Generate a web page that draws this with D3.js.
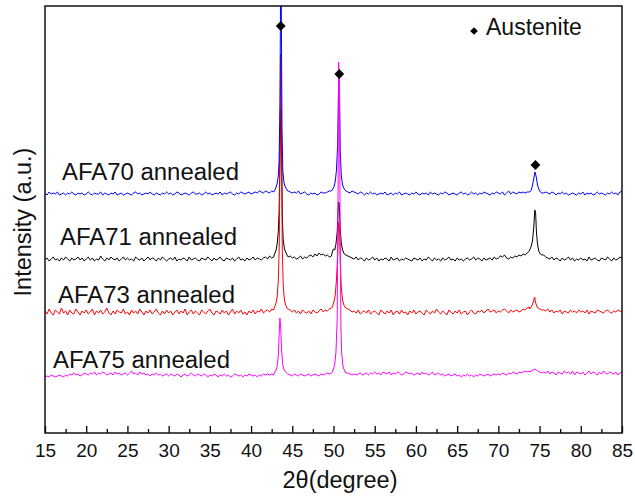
<!DOCTYPE html>
<html>
<head>
<meta charset="utf-8">
<script src="https://cdn.jsdelivr.net/npm/d3@7"></script>
<style>
  body { margin: 0; background: #fff; }
  text { font-family: Arial, "Liberation Sans", sans-serif; fill: #111; }
</style>
</head>
<body>
<svg id="chart"></svg>
<script>
const width = 635;
const height = 497;
const plotLeft = 45, plotRight = 622, plotTop = 6, plotBottom = 433;

// 2theta grid of the scans
const thetaStart = 15;
const thetaStep = 0.25;

const names = ['AFA70 annealed', 'AFA71 annealed', 'AFA73 annealed', 'AFA75 annealed'];
const colors = ['#0000ff', '#000000', '#ff0000', '#ff00ff'];
const offsets = [237, 171, 117, 55];

// background counts (relative), one value per grid step
const bgAFA70 = [
  3,1,4,2,3,2,4,1,2,3,1,3,2,4,2,1,3,2,3,1,
  2,4,2,1,3,2,2,4,1,3,2,1,3,2,4,1,2,3,1,2,
  3,2,1,3,4,2,3,1,2,3,2,4,2,1,3,2,1,3,2,4,
  2,3,1,2,4,3,1,2,3,2,1,3,4,2,2,3,1,2,4,2,
  3,1,2,3,2,4,1,3,2,3,4,2,1,3,2,4,3,2,3,4,
  2,3,4,3,5,4,3,5,4,3,5,4,0,0,0,0,0,0,5,4,
  3,4,3,5,2,3,4,2,1,3,2,3,1,2,4,3,3,4,5,5,
  0,0,0,0,0,0,0,4,3,5,4,3,2,4,3,1,3,2,4,2,
  3,1,2,3,2,4,1,2,3,1,3,2,4,1,2,3,2,1,3,2,
  4,2,1,3,2,3,1,4,2,3,2,1,3,2,4,3,1,2,3,2,
  1,3,4,2,3,1,2,4,2,3,1,3,2,4,3,2,1,3,2,4,
  3,2,4,1,3,5,2,4,3,2,4,3,4,3,4,4,0,0,0,0,
  0,0,3,4,3,2,4,3,1,3,2,4,2,3,1,2,3,2,1,3,
  2,4,1,3,2,3,1,2,4,2,3,2,1,3,2,4,2,3,1,4,5
];
const bgAFA71 = [
  2,4,1,3,5,2,3,1,4,2,5,3,1,4,2,3,5,2,4,1,
  3,5,2,4,1,3,2,6,3,1,4,2,5,3,2,4,1,3,5,2,
  4,2,3,1,5,3,2,4,1,3,5,2,4,3,1,4,2,5,3,1,
  3,4,2,5,1,3,2,4,3,1,5,2,3,4,2,1,4,3,2,5,
  3,1,4,2,3,5,2,1,4,3,2,4,1,3,5,2,3,1,4,2,
  3,5,2,4,3,2,4,5,3,6,4,5,0,0,0,0,0,0,5,6,
  4,5,3,4,6,3,5,4,6,7,5,8,6,9,7,8,6,7,5,6,
  0,0,0,0,0,0,0,6,5,4,3,5,2,4,3,1,4,2,3,5,
  2,4,1,3,2,4,3,1,5,2,3,4,1,3,2,4,3,2,1,4,
  3,2,4,1,3,2,5,3,1,4,2,3,1,4,2,3,5,2,3,1,
  4,2,3,1,3,4,2,3,5,2,4,3,1,4,2,3,4,2,5,3,
  4,6,5,7,4,3,5,4,6,5,7,6,8,7,9,11,0,0,0,0,
  0,0,7,5,4,3,5,2,4,3,1,4,2,3,5,2,4,1,3,2,
  4,2,3,1,5,2,3,4,2,1,4,3,2,5,3,1,4,2,3,5,4
];
const bgAFA73 = [
  5,2,7,3,1,6,4,2,8,3,5,1,6,3,2,7,4,1,5,3,
  6,2,4,7,1,5,3,6,2,4,8,3,1,5,2,6,4,3,7,2,
  4,1,6,3,5,2,7,4,1,5,3,6,2,4,7,3,1,5,2,6,
  3,5,1,4,6,2,5,3,7,1,4,6,2,5,3,1,6,4,2,5,
  7,3,1,5,4,2,6,3,5,1,4,7,2,5,3,6,2,4,1,5,
  3,6,2,5,4,7,3,5,6,4,7,6,0,0,0,0,0,0,7,6,
  4,6,3,5,2,6,4,3,5,2,6,4,3,5,7,4,6,5,7,8,
  0,0,0,0,0,0,0,7,6,4,5,3,6,2,4,5,3,6,2,4,
  5,3,1,6,4,2,5,3,6,1,4,5,2,6,3,4,1,5,3,6,
  2,4,5,3,1,6,4,2,5,3,7,4,2,5,3,1,6,4,2,5,
  3,6,2,4,5,1,4,6,3,2,5,4,6,3,5,7,4,5,6,3,
  5,4,6,7,5,3,6,4,5,6,4,5,7,6,8,9,0,0,0,0,
  0,0,6,5,7,4,6,3,5,4,6,2,5,4,3,6,4,5,3,6,
  4,5,3,6,2,5,4,3,6,5,4,3,5,6,4,3,5,4,6,5,4
];
const bgAFA75 = [
  1,2,1,3,2,1,2,3,2,1,3,2,4,3,5,3,4,2,3,5,
  4,3,5,4,6,3,5,4,6,5,3,4,5,3,6,4,5,3,4,5,
  3,5,7,4,5,3,6,4,5,3,4,2,4,3,5,3,4,2,3,4,
  2,4,3,2,4,3,1,3,4,2,3,5,3,2,4,3,2,4,3,1,
  3,2,4,3,1,3,2,4,2,3,1,2,4,3,2,3,1,3,2,4,
  3,2,3,1,3,2,4,3,4,3,4,3,0,0,0,0,0,0,4,3,
  2,4,3,2,4,3,2,3,4,2,3,4,3,2,4,3,4,5,4,5,
  0,0,0,0,0,0,0,5,4,3,4,3,4,5,3,4,5,3,5,4,
  6,4,5,3,6,5,4,6,3,5,4,6,5,3,4,6,5,4,5,3,
  4,5,3,6,4,5,3,4,6,3,4,5,3,4,2,3,4,2,3,4,
  2,3,1,3,2,4,2,3,1,3,2,4,3,2,3,4,2,3,4,3,
  4,3,5,4,3,5,4,6,5,4,6,5,6,7,6,7,0,0,0,0,
  0,0,6,5,7,4,6,5,3,6,5,4,7,5,6,4,7,3,6,5,
  4,6,3,5,7,4,6,5,3,6,4,7,5,4,6,5,4,6,3,5,6
];

// peak profiles [2theta, counts] for (111), (200), (220)
const pkAFA70 = [
  [[42.8,5],[43.0,8],[43.15,12],[43.3,20],[43.4,35],[43.5,90],[43.58,200],[43.66,200],[43.75,70],[43.85,25],[44.0,13],[44.15,9],[44.3,7],[44.45,5]],
  [[49.85,6],[50.05,9],[50.2,14],[50.35,25],[50.5,50],[50.62,113],[50.72,110],[50.82,45],[50.95,20],[51.1,11],[51.3,7],[51.5,5]],
  [[73.8,4],[74.0,6],[74.15,11],[74.3,18],[74.45,24],[74.6,19],[74.75,11],[74.9,7],[75.1,4],[75.3,3]]
];
const pkAFA71 = [
  [[42.8,7],[43.0,11],[43.15,17],[43.3,30],[43.4,50],[43.5,100],[43.6,153],[43.7,110],[43.8,42],[43.9,22],[44.05,13],[44.2,10],[44.35,7],[44.45,6]],
  [[49.85,10],[50.0,13],[50.15,12],[50.3,18],[50.45,30],[50.6,60],[50.7,58],[50.8,35],[50.95,18],[51.1,12],[51.3,8],[51.5,7]],
  [[73.8,12],[74.0,16],[74.15,22],[74.3,35],[74.42,52],[74.52,49],[74.62,30],[74.75,18],[74.9,11],[75.1,8],[75.3,7]]
];
const pkAFA73 = [
  [[42.8,8],[43.0,12],[43.15,18],[43.3,35],[43.42,70],[43.52,180],[43.6,262],[43.68,200],[43.78,70],[43.9,30],[44.05,16],[44.2,11],[44.35,8],[44.45,7]],
  [[49.85,9],[50.05,14],[50.2,20],[50.35,35],[50.5,60],[50.62,94],[50.72,90],[50.82,55],[50.95,28],[51.1,16],[51.3,10],[51.5,8]],
  [[73.8,7],[74.0,9],[74.15,12],[74.3,16],[74.4,19],[74.5,14],[74.65,10],[74.8,8],[75.0,7],[75.3,6]]
];
const pkAFA75 = [
  [[42.8,5],[43.0,7],[43.15,11],[43.3,22],[43.4,42],[43.5,60],[43.6,50],[43.7,28],[43.85,13],[44.0,8],[44.2,6],[44.45,4]],
  [[49.85,6],[50.0,9],[50.15,14],[50.3,26],[50.45,60],[50.55,180],[50.62,316],[50.72,300],[50.8,150],[50.9,50],[51.0,24],[51.15,12],[51.3,8],[51.5,5]],
  [[73.8,6],[74.0,7],[74.2,8],[74.4,9],[74.6,8],[74.8,7],[75.0,6],[75.3,5]]
];

// austenite markers
const markTheta = [43.6, 50.7, 74.5];
const markCounts = [407, 359, 268];

const xTicks = [15, 20, 25, 30, 35, 40, 45, 50, 55, 60, 65, 70, 75, 80, 85];
const xMinor = [17.5, 22.5, 27.5, 32.5, 37.5, 42.5, 47.5, 52.5, 57.5, 62.5, 67.5, 72.5, 77.5, 82.5];

const labelPos = [[62, 180], [60, 245], [58, 303], [53, 368]];

const svg = d3.select('#chart')
  .attr('width', width)
  .attr('height', height);

const x = d3.scaleLinear().domain([15, 85]).range([plotLeft, plotRight]);
const y = d3.scaleLinear().domain([0, 427]).range([plotBottom, plotTop]);

svg.append('defs').append('clipPath').attr('id', 'plot')
  .append('rect')
  .attr('x', plotLeft).attr('y', plotTop)
  .attr('width', plotRight - plotLeft).attr('height', plotBottom - plotTop);

function buildSeries(bg, peaks, off) {
  let pts = bg.map((v, i) => [thetaStart + i * thetaStep, v]);
  pts = pts.filter(p => !peaks.some(pk => p[0] >= pk[0][0] && p[0] <= pk[pk.length - 1][0]));
  peaks.forEach(pk => pk.forEach(p => pts.push(p)));
  pts.sort((a, b) => a[0] - b[0]);
  return pts.map(p => ({theta: p[0], counts: p[1] + off}));
}

const series = [
  buildSeries(bgAFA70, pkAFA70, offsets[0]),
  buildSeries(bgAFA71, pkAFA71, offsets[1]),
  buildSeries(bgAFA73, pkAFA73, offsets[2]),
  buildSeries(bgAFA75, pkAFA75, offsets[3])
];

const line = d3.line()
  .x(d => x(d.theta))
  .y(d => y(d.counts));

// draw order: black, red, blue, magenta
const order = [1, 2, 0, 3];
const traces = svg.append('g').attr('clip-path', 'url(#plot)');
order.forEach(k => {
  traces.append('path')
    .datum(series[k])
    .attr('fill', 'none')
    .attr('stroke', colors[k])
    .attr('stroke-width', 1)
    .attr('stroke-linejoin', 'round')
    .attr('d', line);
});

// diamonds
const diamond = d3.symbol().type(d3.symbolSquare).size(48);
svg.selectAll('.mark')
  .data(markTheta)
  .enter().append('path')
  .attr('class', 'mark')
  .attr('d', diamond)
  .attr('fill', '#000')
  .attr('transform', (d, i) => `translate(${x(d)},${y(markCounts[i])}) rotate(45)`);

// sample labels
svg.selectAll('.name')
  .data(names)
  .enter().append('text')
  .attr('class', 'name')
  .attr('x', (d, i) => labelPos[i][0])
  .attr('y', (d, i) => labelPos[i][1])
  .attr('font-size', 23)
  .attr('textLength', 177)
  .attr('lengthAdjust', 'spacingAndGlyphs')
  .text(d => d);

// legend
svg.append('path')
  .attr('d', d3.symbol().type(d3.symbolSquare).size(30))
  .attr('fill', '#000')
  .attr('transform', 'translate(474,31) rotate(45)');
svg.append('text')
  .attr('x', 486).attr('y', 35)
  .attr('font-size', 23)
  .text('Austenite');

// axes
const xAxis = svg.append('g')
  .attr('transform', `translate(0,${plotBottom})`)
  .call(d3.axisBottom(x).tickValues(xTicks).tickSizeInner(-7).tickSizeOuter(0).tickPadding(11));
xAxis.select('.domain').remove();
xAxis.selectAll('line').attr('stroke-width', 1.3);
xAxis.selectAll('text')
  .attr('font-size', 19)
  .style('font-family', 'Arial, "Liberation Sans", sans-serif')
  .attr('fill', '#111');

const minor = svg.append('g')
  .attr('transform', `translate(0,${plotBottom})`)
  .call(d3.axisBottom(x).tickValues(xMinor).tickSizeInner(-4).tickSizeOuter(0).tickFormat(''));
minor.select('.domain').remove();
minor.selectAll('line').attr('stroke-width', 1.3);

// frame
svg.append('rect')
  .attr('x', plotLeft).attr('y', plotTop)
  .attr('width', plotRight - plotLeft).attr('height', plotBottom - plotTop)
  .attr('fill', 'none')
  .attr('stroke', '#111')
  .attr('stroke-width', 1.5);

svg.append('text')
  .attr('x', 340)
  .attr('y', 488)
  .attr('text-anchor', 'middle')
  .attr('font-size', 23.5)
  .text('2θ(degree)');

svg.append('text')
  .attr('transform', 'translate(31,222) rotate(-90)')
  .attr('text-anchor', 'middle')
  .attr('font-size', 23.5)
  .text('Intensity (a.u.)');
</script>
</body>
</html>
